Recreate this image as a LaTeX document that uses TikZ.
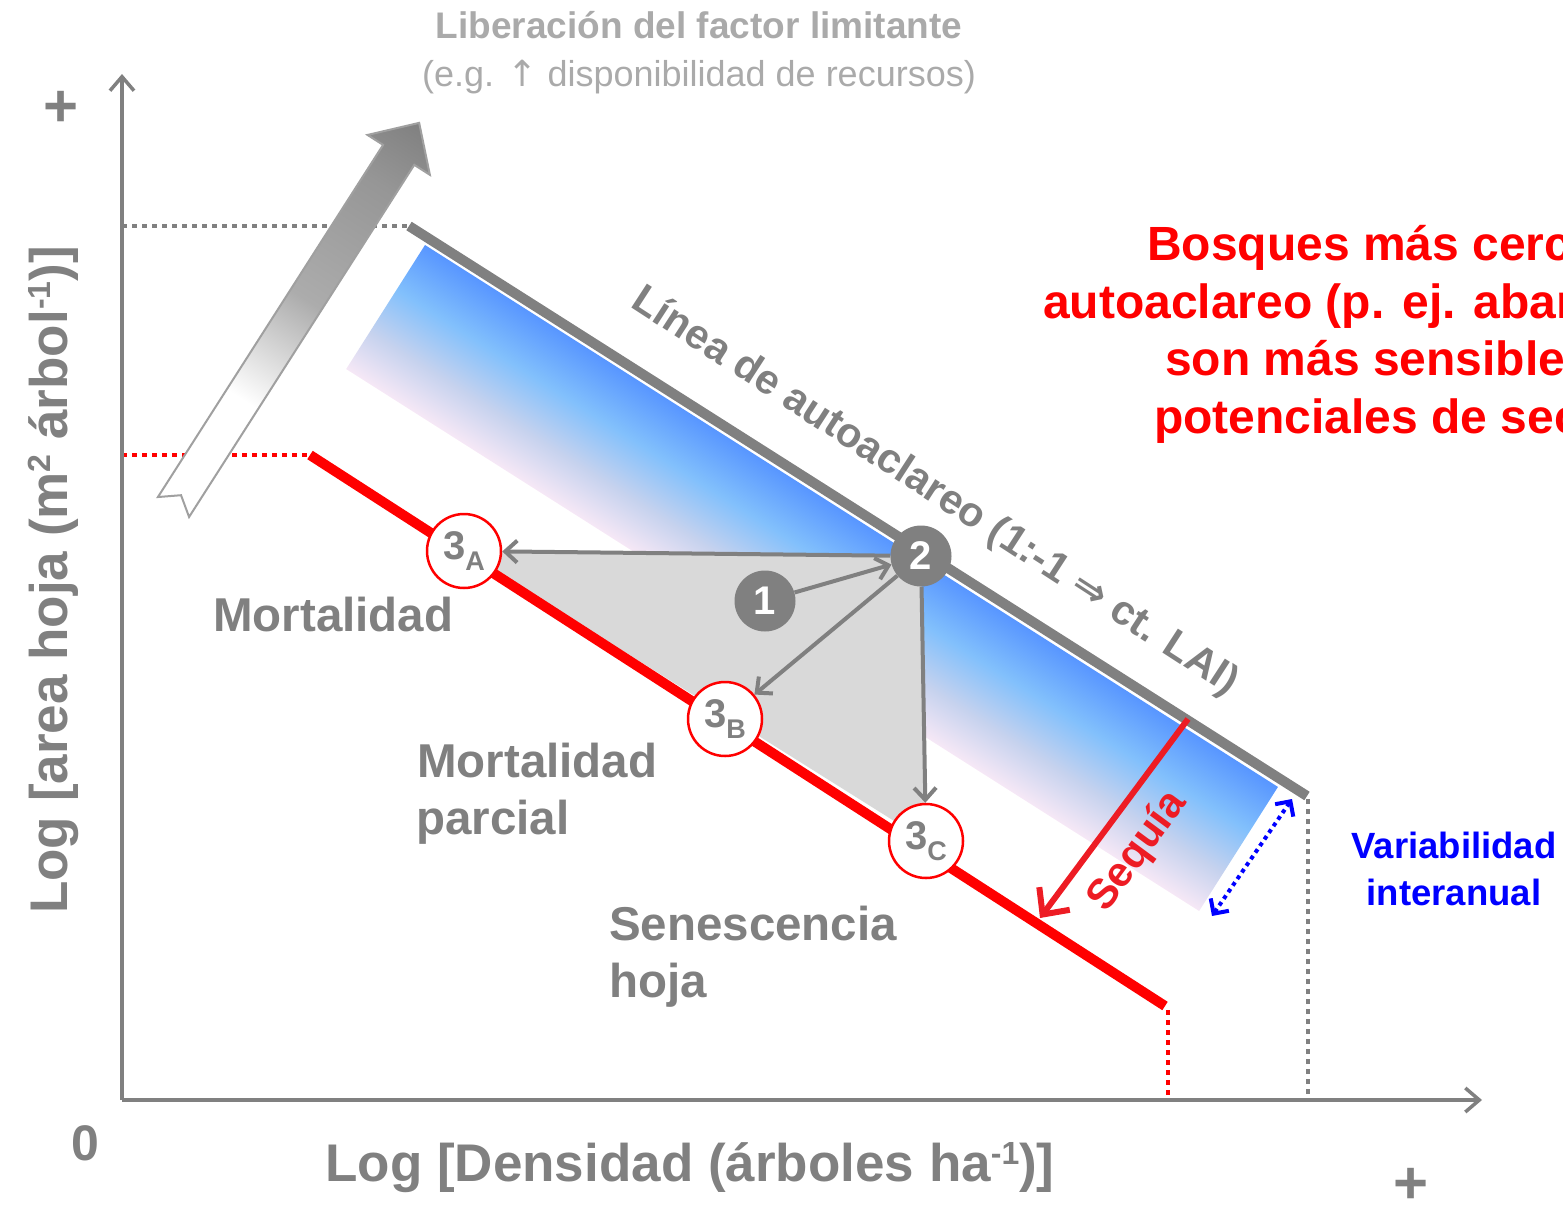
\documentclass[tikz,border=0pt]{standalone}
\usepackage{fontspec}
\setmainfont{Liberation Sans}
\newfontfamily\symfont{DejaVu Sans}
\usetikzlibrary{arrows.meta}
\definecolor{axgray}{RGB}{128,128,128}
\definecolor{fillgray}{RGB}{217,217,217}
\definecolor{toptext}{RGB}{170,170,170}
\definecolor{seqred}{RGB}{237,28,36}
\definecolor{bandtop}{RGB}{88,150,255}
\definecolor{bandmid}{RGB}{130,192,252}
\definecolor{bandlow}{RGB}{198,210,238}
\definecolor{bandbot}{RGB}{246,232,246}
\definecolor{agA}{RGB}{172,172,172}
\definecolor{agB}{RGB}{150,150,150}
\definecolor{agC}{RGB}{128,128,128}
\definecolor{arrowedge}{RGB}{160,160,160}
\pgfdeclareverticalshading{bandshade}{100bp}{color(0bp)=(bandbot); color(25bp)=(bandbot); color(40bp)=(bandlow); color(57bp)=(bandmid); color(75bp)=(bandtop); color(100bp)=(bandtop)}
\pgfdeclarehorizontalshading{arrowshade}{100bp}{color(0bp)=(white); color(25bp)=(white); color(39bp)=(white); color(52bp)=(agA); color(67bp)=(agB); color(75bp)=(agC); color(100bp)=(agC)}
\newcommand{\mysup}[1]{\raisebox{0.6ex}{\fontsize{32}{32}\selectfont #1}}
\newcommand{\subl}[1]{\raisebox{-0.26em}{\fontsize{27}{27}\selectfont #1}}
\begin{document}
\begin{tikzpicture}[x=1pt,y=-1pt,
  axis/.style={draw=axgray,line width=3.5pt,-{Straight Barb[length=14pt,width=24pt]}},
  conn/.style={draw=axgray,line width=4pt,-{Straight Barb[length=12pt,width=22pt]}},
  graydots/.style={draw=axgray,line width=4pt,dash pattern=on 5pt off 5pt},
  reddots/.style={draw=red,line width=4.5pt,dash pattern=on 5pt off 5pt},
  lbl/.style={text=axgray,font=\bfseries\fontsize{47.5}{57}\selectfont,inner sep=0pt},
  axlbl/.style={text=axgray,font=\bfseries\fontsize{53}{60}\selectfont,inner sep=0pt},
  redtxt/.style={text=red,font=\bfseries\fontsize{48}{52}\selectfont,inner sep=0pt,anchor=base west},
  bluetxt/.style={text=blue,font=\bfseries\fontsize{36.5}{40}\selectfont,inner sep=0pt,anchor=base},
  dnum/.style={circle,fill=axgray,minimum size=61pt,inner sep=0pt,text=white,font=\bfseries\fontsize{40}{40}\selectfont},
  rnum/.style={circle,draw=red,line width=2.5pt,fill=white,minimum size=74pt,inner sep=0pt,text=axgray,font=\bfseries\fontsize{40}{40}\selectfont}
]
\useasboundingbox (0,0) rectangle (1563,1210);
% key coordinates
\coordinate (orig) at (122,1100);
\coordinate (ytip) at (122,74);
\coordinate (xtip) at (1482,1100);
\coordinate (gl1) at (409,226);
\coordinate (gl2) at (1307,796);
\coordinate (rl1) at (310,455);
\coordinate (rl2) at (1165,1006);
\coordinate (gyax) at (122,226);
\coordinate (ryax) at (122,455);
\coordinate (rxax) at (1168,1100);
\coordinate (rxtop) at (1168,1010);
\coordinate (gxax) at (1308,1100);
\coordinate (gxtop) at (1308,799);
\coordinate (sqs) at (1188,719);
\coordinate (sqe) at (1040,918);
\coordinate (vb1) at (1212,916);
\coordinate (vb2) at (1292,799);
\coordinate (c1) at (765,601);
\coordinate (c2) at (921,556);
\coordinate (c3A) at (464,551);
\coordinate (c3B) at (725,719);
\coordinate (c3C) at (926,841);
% blue band
\begin{scope}[transform canvas={shift={(425,245)},rotate=-32.43}]
\shade[shading=bandshade] (0,0) rectangle (1010.6,147);
\end{scope}
% gray area
\fill[fillgray] (c3A) -- (c2) -- (c3C) -- cycle;
% dotted guides
\draw[graydots] (gyax) -- (gl1);
\draw[graydots] (gxtop) -- (gxax);
\draw[reddots] (ryax) -- (rl1);
\draw[reddots] (rxtop) -- (rxax);
% axes
\draw[axis] (orig) -- (ytip);
\draw[axis] (orig) -- (xtip);
% lines
\draw[red,line width=10pt] (rl1) -- (rl2);
\draw[axgray,line width=10pt] (gl1) -- (gl2);
% big arrow
\begin{scope}[transform canvas={shift={(173.5,507)},rotate=57.4}]
\shadedraw[shading=arrowshade,draw=arrowedge,line width=2pt] (0,-18.5) -- (418,-18.5) -- (418,-37) -- (456,0) -- (418,37) -- (418,18.5) -- (0,18.5) -- (14,0) -- cycle;
\end{scope}
% nodes
\node[rnum] (n3A) at (c3A) {3\subl{A}};
\node[rnum] (n3B) at (c3B) {3\subl{B}};
\node[rnum] (n3C) at (c3C) {3\subl{C}};
\node[dnum] (n1) at (c1) {1};
\node[dnum] (n2) at (c2) {2};
% connectors
\draw[conn] (n2) -- (n3A);
\draw[conn] (n1) -- (n2);
\draw[conn] (n2) -- (n3B);
\draw[conn] (n2) -- (n3C);
% drought arrow
\draw[seqred,line width=6pt,-{Straight Barb[length=20pt,width=38pt]}] (sqs) -- (sqe);
% interannual variability arrow
\draw[blue,line width=4pt,dash pattern=on 4pt off 4pt,{Straight Barb[length=11pt,width=22pt]}-{Straight Barb[length=11pt,width=22pt]}] (vb1) -- (vb2);
% texts
\node[text=toptext,font=\bfseries\fontsize{37}{37}\selectfont,inner sep=0pt,anchor=base] (lib1) at (699,38) {Liberación del factor limitante};
\node[text=toptext,font=\fontsize{36}{36}\selectfont,inner sep=0pt,anchor=base] (lib2) at (699,86) {(e.g. {\symfont ↑} disponibilidad de recursos)};
\node[lbl,anchor=base west] (mort) at (213,631) {Mortalidad};
\node[lbl,anchor=base west] (mp1) at (417,777) {Mortalidad};
\node[lbl,anchor=base west] (mp2) at (416,834) {parcial};
\node[lbl,anchor=base west] (sh1) at (609,940) {Senescencia};
\node[lbl,anchor=base west] (sh2) at (609,997) {hoja};
\node[text=axgray,font=\bfseries\fontsize{41.5}{41.5}\selectfont,rotate=-33,inner sep=0pt] (linea) at (935,492) {Línea de autoaclareo (1:-1 {\symfont ⇒} ct. LAI)};
\node[text=seqred,font=\bfseries\fontsize{42}{42}\selectfont,rotate=53.6,inner sep=0pt] (seq) at (1138,852) {Sequía};
\node[bluetxt] (var1) at (1454,858) {Variabilidad};
\node[bluetxt] (var2) at (1454,905) {interanual};
\begin{scope}
\clip (0,0) rectangle (1563,1210);
\node[redtxt] (bq1) at (1147,260) {Bosques más cerc};
\node[redtxt] (bq2) at (1043,318) {autoaclareo (p. ej. abar};
\node[redtxt] (bq3) at (1165,375) {son más sensible};
\node[redtxt] (bq4) at (1154,433) {potenciales de sec};
\end{scope}
\node[axlbl,anchor=base] (xl) at (690,1181) {Log [Densidad (árboles ha\mysup{-1})]};
\node[axlbl,rotate=90,anchor=base] (yl) at (67,580) {Log [area hoja (m\mysup{2} árbol\mysup{-1})]};
\node[axlbl,font=\bfseries\fontsize{60}{60}\selectfont] (plusy) at (61,109) {+};
\node[axlbl,font=\bfseries\fontsize{60}{60}\selectfont] (plusx) at (1411,1186) {+};
\node[axlbl,font=\bfseries\fontsize{50}{50}\selectfont] (zero) at (85,1143) {0};
\end{tikzpicture}
\end{document}
